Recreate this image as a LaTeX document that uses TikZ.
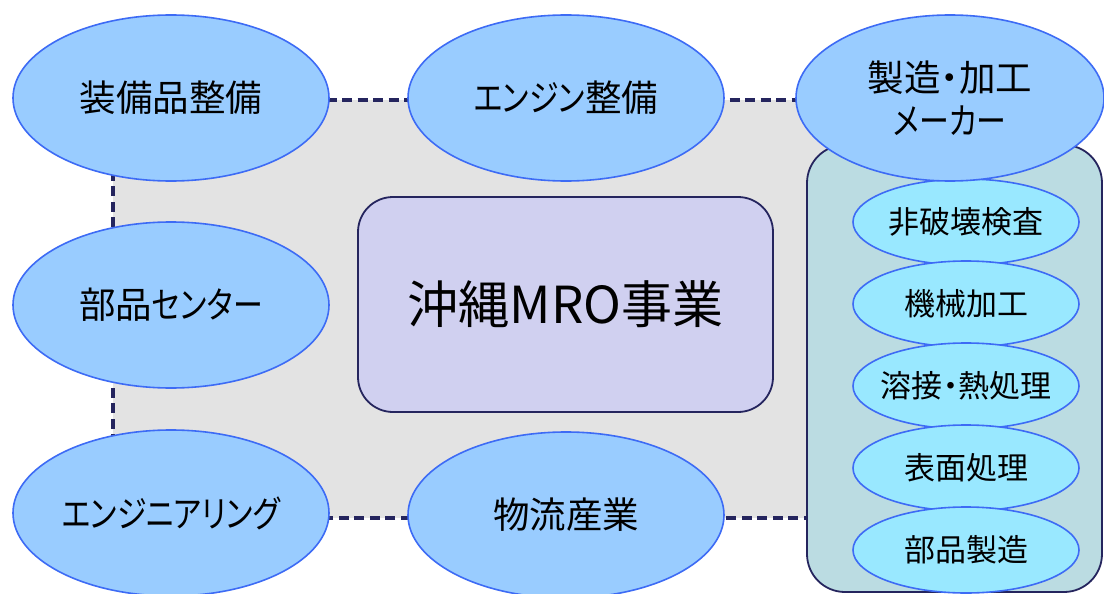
\documentclass[tikz,border=0pt]{standalone}
\usepackage{fontspec}
\setmainfont{Noto Sans CJK JP}[RawFeature={+palt}]
\newfontfamily\kanafont{Noto Sans CJK JP}[RawFeature={+palt}, FakeStretch=0.82]
\newcommand\kn[1]{{\kanafont #1}}
\usetikzlibrary{shapes.geometric}
\definecolor{bigfill}{HTML}{99CCFF}
\definecolor{elline}{HTML}{3D6BF5}
\definecolor{smallfill}{HTML}{99E8FF}
\definecolor{areagray}{HTML}{E3E3E3}
\definecolor{navy}{HTML}{25255E}
\definecolor{corefill}{HTML}{D0D0F0}
\definecolor{sidefill}{HTML}{BBDCE2}
\begin{document}
\begin{tikzpicture}[x=1pt,y=-1pt,
  bigell/.style={ellipse, draw=elline, line width=1.6pt, fill=bigfill,
    minimum width=316pt, minimum height=166pt, inner xsep=-30pt, inner ysep=0pt,
    font=\fontsize{36.5}{43}\selectfont, align=center},
  smallell/.style={ellipse, draw=elline, line width=1.6pt, fill=smallfill,
    minimum width=226pt, minimum height=86pt, inner xsep=-30pt, inner ysep=-5pt,
    font=\fontsize{31}{36}\selectfont},
  areabox/.style={rectangle, fill=areagray, inner sep=0pt},
  link/.style={draw=navy, line width=3.6pt, dash pattern=on 10pt off 5.5pt},
  corebox/.style={rectangle, rounded corners=35pt, draw=navy, line width=1.8pt,
    fill=corefill, inner sep=0pt, font=\fontsize{51}{57}\selectfont},
  sidebox/.style={rectangle, rounded corners=38pt, draw=navy, line width=1.8pt,
    fill=sidefill, inner sep=0pt}]
\useasboundingbox (0,0) rectangle (1104,594);
\fill[white] (0,0) rectangle (1104,594);
% background area with dashed border
\node[areabox, minimum width=747pt, minimum height=418pt] (area) at (486.5,309) {};
\draw[link] (area.south east) -- (area.south west) -- (area.north west) -- (area.north east);
% right group box
\node[sidebox, minimum width=295pt, minimum height=447pt] (side) at (954.5,368.5) {};
% core box
\node[corebox, minimum width=415pt, minimum height=215pt] (core) at (565.5,304.5) {沖縄MRO事業};
% small ellipses
\node[smallell] (s1) at (966,222) {\raisebox{-3pt}{非破壊検査}};
\node[smallell] (s2) at (966,304) {機械加工};
\node[smallell] (s3) at (966,386) {溶接・熱処理};
\node[smallell] (s4) at (966,468) {表面処理};
\node[smallell] (s5) at (966,550) {部品製造};
% big ellipses
\node[bigell] (zb) at (171,98) {\raisebox{-3pt}{装備品整備}};
\node[bigell] (es) at (566,98) {\raisebox{-3pt}{\kn{エンジン}整備}};
\node[bigell, minimum width=308pt] (mk) at (950,98) {製造・加工\\\kn{メーカー}};
\node[bigell] (bc) at (171,305) {部品\kn{センター}};
\node[bigell] (eg) at (171,513) {\kn{エンジニアリング}};
\node[bigell] (bl) at (566,515) {物流産業};
\end{tikzpicture}
\end{document}
